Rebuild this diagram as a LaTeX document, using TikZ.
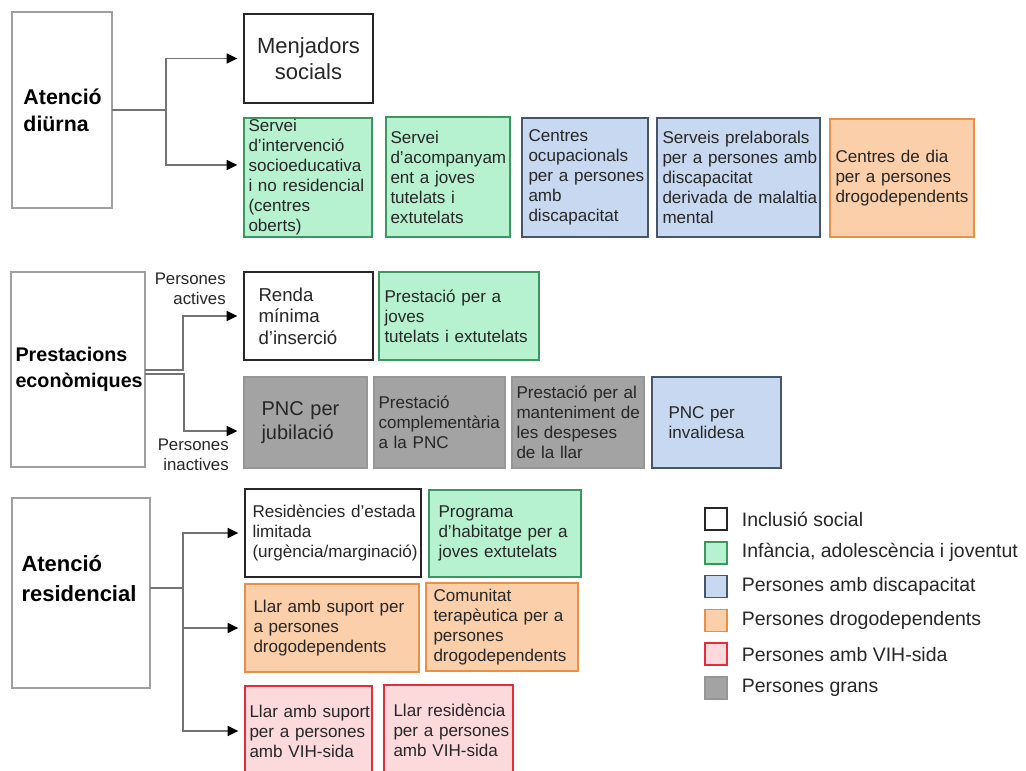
\documentclass[tikz,border=0pt]{standalone}
\usepackage{fontspec}
\setmainfont{Liberation Sans}
\usetikzlibrary{arrows.meta,positioning}

\definecolor{infafill}{RGB}{182,242,208}
\definecolor{infaline}{RGB}{60,150,95}
\definecolor{discfill}{RGB}{199,216,240}
\definecolor{discline}{RGB}{70,85,110}
\definecolor{drogfill}{RGB}{250,207,170}
\definecolor{drogline}{RGB}{232,145,70}
\definecolor{vihfill}{RGB}{252,218,220}
\definecolor{vihline}{RGB}{225,45,60}
\definecolor{granfill}{RGB}{163,163,163}
\definecolor{granline}{RGB}{150,150,150}
\definecolor{linkgray}{RGB}{115,115,115}

\tikzset{
  base/.style={rectangle, inner sep=0pt, outer sep=0pt, align=left, text=black!85,
    font=\fontsize{12.8}{15}\selectfont},
  incl/.style={base, draw=black!85, fill=white, line width=1.1pt},
  infa/.style={base, draw=infaline, fill=infafill, line width=1.1pt},
  disc/.style={base, draw=discline, fill=discfill, line width=1.1pt},
  drog/.style={base, draw=drogline, fill=drogfill, line width=1.1pt},
  vih/.style={base, draw=vihline, fill=vihfill, line width=1.1pt},
  gran/.style={base, draw=granline, fill=granfill, line width=1.1pt},
  mainbox/.style={base, draw=gray!75, line width=0.8pt, text=black,
    font=\bfseries\fontsize{16}{20}\selectfont},
  link/.style={draw=linkgray, line width=1.1pt},
  feed/.style={link, -{Triangle[length=8pt,width=7.5pt,color=black]}, shorten >=5pt},
  side/.style={inner sep=0pt, align=right, text=black!85, font=\fontsize{12.6}{15}\selectfont},
  legsq/.style={minimum size=16.5pt},
  legtext/.style={inner sep=0pt, text=black!85, font=\fontsize{14.6}{17}\selectfont}
}

% box in pixels: [left pad]{name}{style}{x}{y}{w}{h}{text}
\newcommand{\catbox}[8][4]{%
  \pgfmathsetlengthmacro{\boxw}{#6*0.75pt}%
  \pgfmathsetlengthmacro{\boxh}{#7*0.75pt}%
  \pgfmathsetlengthmacro{\boxtw}{(#6-3)*0.75pt}%
  \pgfmathsetlengthmacro{\boxpad}{#1*0.75pt}%
  \node[#3, anchor=north west, minimum width=\boxw, minimum height=\boxh, text width=\boxtw,
        execute at begin node={\advance\leftskip\boxpad\hyphenpenalty=10000\exhyphenpenalty=10000}]
        (#2) at (#4,#5) {#8};}

\begin{document}
\begin{tikzpicture}[x=0.75pt, y=-0.75pt]
\useasboundingbox (0,0) rectangle (1026,771);

% Atenció diürna
\catbox[10]{diurna}{mainbox}{12}{12}{100}{196}{Atenció\\diürna}
\catbox[0]{menj}{incl, align=center, font=\fontsize{16.5}{19}\selectfont}{244}{14}{129}{89}{Menjadors\\socials}
\catbox[3]{inter}{infa}{244}{118}{128}{119}{Servei\\d’intervenció\\socioeducativa\\i no residencial\\(centres\\oberts)}
\catbox[3]{acomp}{infa}{386}{117}{124}{120}{Servei\\d’acompanyam\\ent a joves\\tutelats i\\extutelats}
\catbox[5]{ocup}{disc}{522}{118}{126}{119}{Centres\\ocupacionals\\per a persones\\amb\\discapacitat}
\catbox[4]{prel}{disc}{657}{118}{163}{119}{Serveis prelaborals\\per a persones amb\\discapacitat\\derivada de malaltia\\mental}
\catbox[4]{dia}{drog}{830}{119}{144}{118}{Centres de dia\\per a persones\\drogodependents}

\coordinate (jd) at (166,110);
\draw[link] (diurna.east) -- (jd);
\draw[feed] (jd) |- (menj.west);
\draw[feed] (jd) |- ([yshift=9.4pt]inter.west);

% Prestacions econòmiques
\catbox[3]{eco}{mainbox, font=\bfseries\fontsize{14.8}{19}\selectfont}{11}{272}{134}{195}{Prestacions\\econòmiques}
\catbox[13]{renda}{incl, font=\fontsize{14}{16}\selectfont}{244}{272}{129}{88}{Renda\\mínima\\d’inserció}
\catbox[4]{joves}{infa}{379}{272}{160}{88}{Prestació per a\\joves\\tutelats i extutelats}
\catbox[16]{jub}{gran, font=\fontsize{15}{17.5}\selectfont}{244}{377}{123}{91}{PNC per\\jubilació}
\catbox[3]{compl}{gran}{374}{377}{131}{91}{Prestació\\complementària\\a la PNC}
\catbox[3]{mant}{gran}{512}{377}{132}{91}{Prestació per al\\manteniment de\\les despeses\\de la llar}
\catbox[15]{inval}{disc}{652}{377}{129}{91}{PNC per\\invalidesa}

\coordinate (jp1) at (183,370);
\coordinate (jp2) at (184,374);
\draw[feed] (eco.east |- jp1) -- (jp1) |- (renda.west);
\draw[feed] (eco.east |- jp2) -- (jp2) |- ([yshift=-6.4pt]jub.west);
\node[side, anchor=east] (actlab) at (226,289) {Persones\\actives};
\node[side, anchor=east] (inactlab) at (229,455) {Persones\\inactives};

% Atenció residencial
\catbox[8]{res}{mainbox, font=\bfseries\fontsize{16.5}{22}\selectfont}{12}{498}{138}{190}{Atenció\\residencial\\\mbox{}}
\catbox[6]{resid}{incl}{245}{489}{176}{88}{Residències d’estada\\limitada\\(urgència/marginació)}
\catbox[8]{prog}{infa}{429}{490}{152}{87}{Programa\\d’habitatge per a\\joves extutelats}
\catbox[7]{llard}{drog}{245}{584}{174}{88}{Llar amb suport per\\a persones\\drogodependents}
\catbox[6]{comu}{drog}{426}{583}{152}{88}{Comunitat\\terapèutica per a\\persones\\drogodependents}
\catbox[3]{vih1}{vih}{245}{686}{127}{90}{Llar amb suport\\per a persones\\amb VIH-sida}
\catbox[8]{vih2}{vih}{384}{685}{129}{90}{Llar residència\\per a persones\\amb VIH-sida}

\coordinate (jr) at (183,588);
\draw[link] (res.east |- jr) -- (jr);
\draw[feed] (jr) |- (resid.west);
\draw[feed] (jr) |- (llard.west);
\draw[feed] (jr) |- (vih1.west);

% Legend
\foreach \sty/\txt [count=\i from 0] in {incl/Inclusió social, infa/{Infància, adolescència i joventut},
    disc/Persones amb discapacitat, drog/Persones drogodependents, vih/Persones amb VIH-sida, gran/Persones grans} {
  \node[\sty, legsq] (sq\i) at (716,{519+33.8*\i}) {};
  \node[legtext, right=11pt of sq\i] (lt\i) {\txt};
}

\end{tikzpicture}
\end{document}
